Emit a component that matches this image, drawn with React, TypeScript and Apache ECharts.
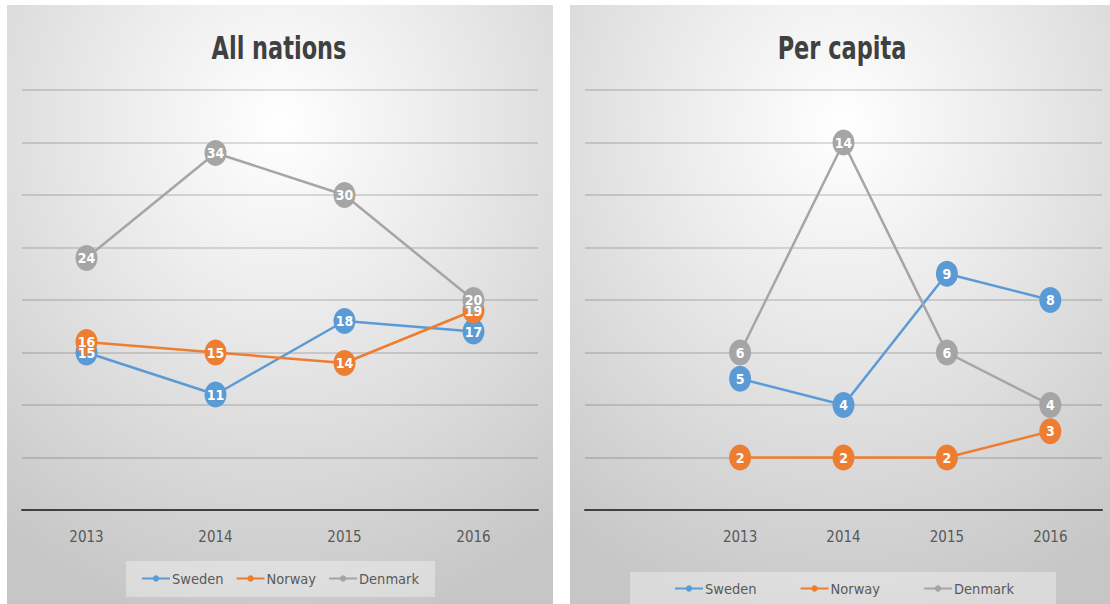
import React, { useEffect, useRef } from "react";
import * as echarts from "echarts";

const years = ["2013", "2014", "2015", "2016"];
const yearsPerCapita = ["", "2013", "2014", "2015", "2016"];

const allSweden = [15, 11, 18, 17];
const allNorway = [16, 15, 14, 19];
const allDenmark = [24, 34, 30, 20];

const pcSweden = [null, 5, 4, 9, 8];
const pcNorway = [null, 2, 2, 2, 3];
const pcDenmark = [null, 6, 14, 6, 4];

const seriesNames = ["Sweden", "Norway", "Denmark"];
const colors = ["#5B9BD5", "#ED7D31", "#A5A5A5"];

const FONT = "'Liberation Sans Narrow', 'DejaVu Sans Condensed', 'Open Sans', sans-serif";

export default function App() {
  const ref = useRef<HTMLDivElement>(null);
  useEffect(() => {
    if (!ref.current) return;
    const chart = echarts.init(ref.current, null, { renderer: "svg" });
    const bg = {
      type: "radial",
      x: 0.5,
      y: 0.2,
      r: 0.85,
      colorStops: [
        { offset: 0, color: "#ffffff" },
        { offset: 0.35, color: "#ececec" },
        { offset: 1, color: "#c6c6c6" },
      ],
    };
    const mkSeries = (name: string, color: string, data: any[], idx: number) => ({
      name,
      type: "line",
      xAxisIndex: idx,
      yAxisIndex: idx,
      data,
      color,
      symbol: "circle",
      symbolSize: [22, 26],
      lineStyle: { width: 2.5, color },
      itemStyle: { color },
      label: {
        show: true,
        position: "inside",
        color: "#ffffff",
        fontFamily: FONT,
        fontSize: 14,
        fontWeight: "bold",
      },
      z: 3,
    });
    const xAxisBase = {
      type: "category",
      boundaryGap: true,
      axisLine: { show: true, lineStyle: { color: "#404040", width: 2 } },
      axisTick: { show: false },
      axisLabel: { color: "#595959", fontFamily: FONT, fontSize: 15, margin: 19 },
      splitLine: { show: false },
    };
    const yAxisBase = {
      type: "value",
      axisLine: { show: false },
      axisTick: { show: false },
      axisLabel: { show: false },
      splitLine: { show: true, lineStyle: { color: "rgba(0,0,0,0.13)", width: 2 } },
    };
    const legendBase = {
      orient: "horizontal",
      itemWidth: 28,
      itemHeight: 8,
      padding: 0,
      textStyle: { color: "#595959", fontFamily: FONT, fontSize: 14.5, padding: [0, 0, 0, -3] },
      data: seriesNames,
    };
    const titleFont = `bold 32px ${FONT}`;
    chart.setOption({
      animation: false,
      graphic: [
        { type: "rect", z: -10, shape: { x: 7, y: 5, width: 546, height: 600 }, style: { fill: bg } },
        { type: "rect", z: -10, shape: { x: 570, y: 5, width: 545, height: 600 }, style: { fill: bg } },
        { type: "rect", z: -5, shape: { x: 126, y: 561, width: 309, height: 36 }, style: { fill: "rgba(255,255,255,0.35)" } },
        { type: "rect", z: -5, shape: { x: 630, y: 572, width: 426, height: 40 }, style: { fill: "rgba(255,255,255,0.35)" } },
        {
          type: "text", z: 10, x: 279, y: 32, scaleX: 0.78,
          style: { text: "All nations", textAlign: "center", fill: "#404040", font: titleFont },
        },
        {
          type: "text", z: 10, x: 842, y: 32, scaleX: 0.78,
          style: { text: "Per capita", textAlign: "center", fill: "#404040", font: titleFont },
        },
      ],
      grid: [
        { left: 22, right: 1110 - 538, top: 90, bottom: 604 - 510 },
        { left: 585, right: 1110 - 1102, top: 90, bottom: 604 - 510 },
      ],
      xAxis: [
        { ...xAxisBase, gridIndex: 0, data: years },
        { ...xAxisBase, gridIndex: 1, data: yearsPerCapita },
      ],
      yAxis: [
        { ...yAxisBase, gridIndex: 0, min: 0, max: 40, interval: 5 },
        { ...yAxisBase, gridIndex: 1, min: 0, max: 16, interval: 2 },
      ],
      legend: [
        { ...legendBase, left: 141, top: 571, itemGap: 12 },
        { ...legendBase, left: 674, top: 581, itemGap: 43 },
      ],
      series: [
        mkSeries(seriesNames[0], colors[0], allSweden, 0),
        mkSeries(seriesNames[1], colors[1], allNorway, 0),
        mkSeries(seriesNames[2], colors[2], allDenmark, 0),
        mkSeries(seriesNames[0], colors[0], pcSweden, 1),
        mkSeries(seriesNames[1], colors[1], pcNorway, 1),
        mkSeries(seriesNames[2], colors[2], pcDenmark, 1),
      ],
    });
    return () => chart.dispose();
  }, []);
  return (
    <div
      ref={ref}
      style={{ position: "absolute", left: 0, top: 0, width: 1110, height: 604, background: "#ffffff" }}
    />
  );
}
